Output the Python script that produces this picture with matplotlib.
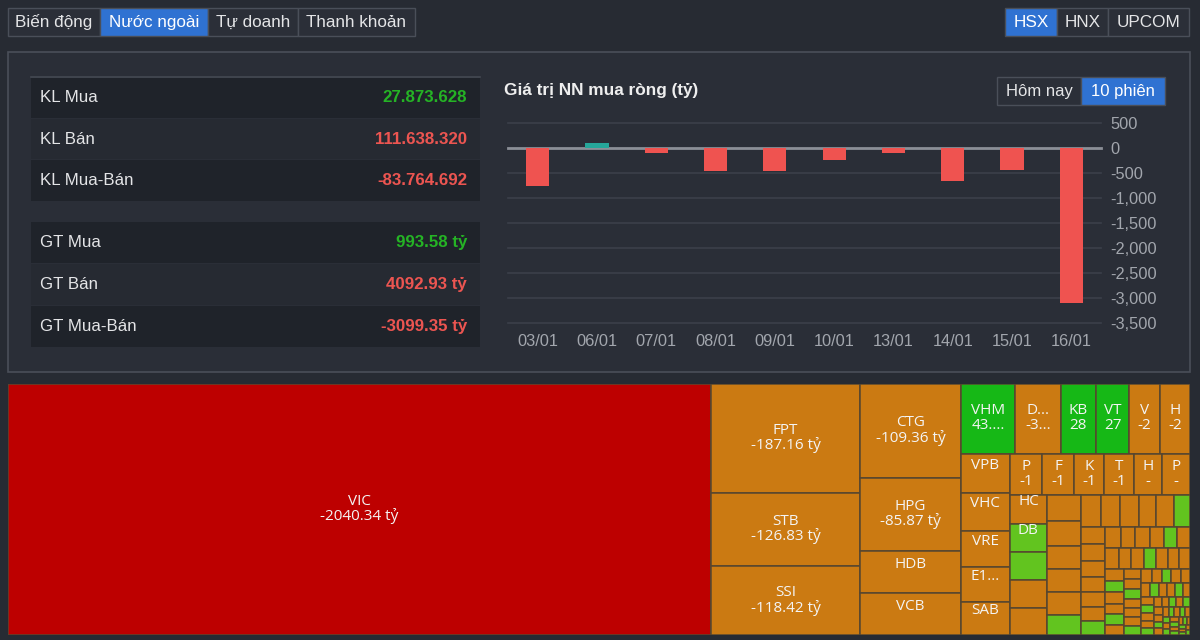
import matplotlib
matplotlib.use("Agg")
import matplotlib.pyplot as plt
from matplotlib.patches import Rectangle
import math

W, H = 1200, 640

# ---------------- data ----------------
tabs_left = ["Biến động", "Nước ngoài", "Tự doanh", "Thanh khoản"]
tabs_left_active = 1
tabs_right = ["HSX", "HNX", "UPCOM"]
tabs_right_active = 0
period_tabs = ["Hôm nay", "10 phiên"]
period_active = 1

stat_labels = ["KL Mua", "KL Bán", "KL Mua-Bán", "GT Mua", "GT Bán", "GT Mua-Bán"]
stat_values = ["27.873.628", "111.638.320", "-83.764.692", "993.58 tỷ", "4092.93 tỷ", "-3099.35 tỷ"]
stat_signs = [1, -1, -1, 1, -1, -1]

chart_title = "Giá trị NN mua ròng (tỷ)"
dates = ["03/01", "06/01", "07/01", "08/01", "09/01", "10/01", "13/01", "14/01", "15/01", "16/01"]
net_values = [-755, 110, -108, -465, -458, -245, -92, -655, -432, -3099.35]
y_ticks = [500, 0, -500, -1000, -1500, -2000, -2500, -3000, -3500]

# treemap: labelled cells (label as displayed, value text as displayed)
tm_names = ["VIC", "FPT", "STB", "SSI", "CTG", "HPG", "HDB", "VCB", "VHM", "D...", "KB", "VT",
            "V", "H", "VPB", "VHC", "VRE", "E1...", "SAB", "P", "F", "K", "T", "H", "P", "HC", "DB"]
tm_values = [-2040.34, -187.16, -126.83, -118.42, -109.36, -85.87, -49.10, -48.70, 43.35, -37.10,
             28.10, 27.00, -24.50, -24.20, -21.90, -21.50, -20.40, -19.80, -18.30, -15.80, -15.20,
             -14.60, -14.30, -13.60, -13.30, -12.50, 12.45]
tm_texts = ["-2040.34 tỷ", "-187.16 tỷ", "-126.83 tỷ", "-118.42 tỷ", "-109.36 tỷ", "-85.87 tỷ", "", "",
            "43....", "-3...", "28", "27", "-2", "-2", "", "", "", "", "", "-1", "-1", "-1", "-1",
            "-", "-", "", ""]
# treemap: small unlabelled cells
tm_small = [12.2, -12.0, -11.9, -10.0, -9.7, -9.3, -9.0, -8.6, 8.0, -7.4, -7.1, -6.8, -6.5, -6.4, 6.1,
            -4.8, -4.6, -4.5, -4.3, -4.2, -4.0, 3.9, -3.8, -3.6, -3.5, -3.4, 3.3, -3.2, -3.1, -3.0,
            -2.9, 2.85, -2.8, -2.7, -2.6, -2.5, 2.45, -2.4, -2.3, 2.2, -2.15, -2.1, -2.0, 1.95, -1.9,
            -1.85, -1.8, 1.75, -1.7, -1.65, 1.6, -1.55, -1.5, -1.45, 1.4, -1.35, -1.3, 1.25, -1.2,
            -1.2, 1.15, -1.1, -1.05, 1.0, -0.95, -0.9, 0.88, -0.85, 0.8, -0.78, -0.75, 0.72, -0.7,
            -0.66, 0.62, -0.6, 0.58, -0.55, 0.55, -0.52, 0.5, -0.48, 0.45, -0.42, 0.4, -0.38, 0.35,
            -0.32, 0.3, -0.28, 0.25, -0.22, 0.2]

# ---------------- style ----------------
BG = "#272b33"
PANEL = "#2a2e37"
BORDER = "#4a4f59"
BTN_BG = "#2b2f38"
BLUE = "#2f72d2"
ROW_DARK = "#1f232a"
ROW_LIGHT = "#262a32"
TXT = "#e4e5e7"
GREEN_TXT = "#25b325"
RED_TXT = "#ec5551"
GRID = "#3b404a"
TICK = "#a2a6ad"
BAR_UP = "#26a69a"
BAR_DN = "#ef5350"
UI_FONT = ["Liberation Sans", "DejaVu Sans"]
TM_FONT = ["Open Sans", "DejaVu Sans"]

fig = plt.figure(figsize=(W / 100, H / 100), dpi=100)
fig.patch.set_facecolor(BG)

ui = fig.add_axes([0, 0, 1, 1])
ui.set_xlim(0, W)
ui.set_ylim(H, 0)
ui.axis("off")
ui.set_facecolor(BG)


def box(x0, x1, y0, y1, fc, ec=None, lw=1.0, z=1):
    ui.add_patch(Rectangle((x0, y0), x1 - x0, y1 - y0, facecolor=fc,
                           edgecolor=ec if ec else "none", linewidth=lw, zorder=z))


def button_group(edges, y0, y1, labels, active, size=12.3):
    for i, lab in enumerate(labels):
        x0, x1 = edges[i], edges[i + 1]
        fc = BLUE if i == active else BTN_BG
        box(x0, x1, y0, y1, fc, BORDER, 1.0, 2)
        ui.text((x0 + x1) / 2, (y0 + y1) / 2 + 0.5, lab, ha="center", va="center",
                color="#ffffff" if i == active else TXT, fontsize=size, family=UI_FONT, zorder=3)


# top tabs
button_group([7.5, 99.5, 208, 298, 414.5], 7.5, 36, tabs_left, tabs_left_active)
button_group([1005, 1057, 1108, 1189], 7.5, 36, tabs_right, tabs_right_active)

# panel
box(7.5, 1190, 52, 372, PANEL, BORDER, 1.2, 1)

# stats table
row_bounds = [(78, 118), (119, 159), (160, 201), (222, 263), (264, 305), (306, 347)]
row_cols = [ROW_DARK, ROW_LIGHT, ROW_DARK, ROW_DARK, ROW_LIGHT, ROW_DARK]
ui.plot([31, 480], [77, 77], color="#444952", lw=1.2, zorder=2)
for (y0, y1), c, lab, val, s in zip(row_bounds, row_cols, stat_labels, stat_values, stat_signs):
    box(31, 480, y0, y1, c, None, 0, 2)
    yc = (y0 + y1) / 2
    ui.text(40, yc, lab, ha="left", va="center", color=TXT, fontsize=12.2, family=UI_FONT, zorder=3)
    ui.text(467, yc, val, ha="right", va="center", color=GREEN_TXT if s > 0 else RED_TXT,
            fontsize=12.2, fontweight="bold", family=UI_FONT, zorder=3)

# chart title and period buttons
ui.text(504, 91, chart_title, ha="left", va="center", color="#eeeeee", fontsize=12.4,
        fontweight="bold", family=UI_FONT, zorder=3)
button_group([997, 1081, 1165], 77, 105, period_tabs, period_active, size=12)

# ---------------- bar chart ----------------
ax = fig.add_axes([508 / W, 1 - 323 / H, 593 / W, 200 / H])
ax.set_facecolor("none")
x = list(range(len(dates)))
colors = [BAR_UP if v >= 0 else BAR_DN for v in net_values]
ax.bar(x, net_values, width=0.39, color=colors, zorder=3)
for t in y_ticks:
    if t == 0:
        ax.axhline(t, color="#8b8f97", lw=2, zorder=2, clip_on=False)
    else:
        ax.axhline(t, color=GRID, lw=1.2, zorder=1, clip_on=False)
ax.set_xlim(-0.5, len(dates) - 0.5)
ax.set_ylim(y_ticks[-1], y_ticks[0])
ax.set_xticks(x)
ax.set_xticklabels(dates, family=UI_FONT)
ax.yaxis.tick_right()
ax.set_yticks(y_ticks)
ax.set_yticklabels([f"{t:,}" for t in y_ticks], family=UI_FONT)
ax.tick_params(axis="both", length=0, colors=TICK, labelsize=11.8)
ax.tick_params(axis="y", pad=7)
ax.tick_params(axis="x", pad=8)
for sp in ax.spines.values():
    sp.set_visible(False)

# ---------------- treemap ----------------
TX0, TY0, TX1, TY1 = 8, 384, 1190, 635
tw, th = TX1 - TX0, TY1 - TY0
tm = fig.add_axes([TX0 / W, 1 - TY1 / H, tw / W, th / H])
tm.set_xlim(0, tw)
tm.set_ylim(th, 0)
tm.axis("off")

all_vals = tm_values + tm_small
all_names = tm_names + [""] * len(tm_small)
all_texts = tm_texts + [""] * len(tm_small)
order = sorted(range(len(all_vals)), key=lambda i: -abs(all_vals[i]))
areas_in = [abs(all_vals[i]) for i in order]


def treemap_layout(sizes, w, h, ratio=0.5 * (1 + 5 ** 0.5)):
    total = sum(sizes)
    areas = [s / total * w * h for s in sizes]
    rect = {"x": 0.0, "y": 0.0, "w": float(w), "h": float(h)}
    out = [None] * len(areas)

    def worst(row, row_area, fixed):
        amax = max(areas[k] for k in row)
        amin = min(areas[k] for k in row)
        sq = row_area * row_area
        f = fixed * fixed * ratio
        return max(f * amax / sq, sq / (f * amin)) if sq else math.inf

    def position(row, row_area, fixed, flush):
        if fixed == rect["w"]:
            other = row_area / fixed if fixed else 0
            if flush or other > rect["h"]:
                other = rect["h"]
            last = rect["x"]
            for n, k in enumerate(row):
                step = areas[k] / other if other else 0
                remain = rect["x"] + rect["w"] - last
                mod = remain if (n == len(row) - 1 or remain < step) else step
                out[k] = (last, rect["y"], mod, other)
                last += mod
            rect["y"] += other
            rect["h"] -= other
        else:
            other = row_area / fixed if fixed else 0
            if flush or other > rect["w"]:
                other = rect["w"]
            last = rect["y"]
            for n, k in enumerate(row):
                step = areas[k] / other if other else 0
                remain = rect["y"] + rect["h"] - last
                mod = remain if (n == len(row) - 1 or remain < step) else step
                out[k] = (rect["x"], last, other, mod)
                last += mod
            rect["x"] += other
            rect["w"] -= other

    fixed = min(rect["w"], rect["h"])
    best = math.inf
    row, row_area = [], 0.0
    i = 0
    while i < len(areas):
        row.append(i)
        row_area += areas[i]
        score = worst(row, row_area, fixed)
        if score <= best:
            i += 1
            best = score
        else:
            row.pop()
            row_area -= areas[i]
            position(row, row_area, fixed, False)
            fixed = min(rect["w"], rect["h"])
            row, row_area, best = [], 0.0, math.inf
    if row:
        position(row, row_area, fixed, True)
    return out


rects = treemap_layout(areas_in, tw, th)


def cell_color(v):
    if v <= -1000:
        return "#bd0000"
    if v < 0:
        return "#cb7a12"
    if v >= 20:
        return "#16b816"
    return "#62c41f"


for (rx, ry, rw, rh), idx in zip(rects, order):
    v = all_vals[idx]
    tm.add_patch(Rectangle((rx, ry), rw, rh, facecolor=cell_color(v), edgecolor="#56462f",
                           linewidth=1.1, zorder=2))
    name, txt = all_names[idx], all_texts[idx]
    cx, cy = rx + rw / 2, ry + rh / 2
    if name:
        tm.text(cx, cy - 8, name, ha="center", va="center", color="#f4f4f4", fontsize=11,
                family=TM_FONT, zorder=3)
    if txt:
        tm.text(cx, cy + 7, txt, ha="center", va="center", color="#f4f4f4", fontsize=11,
                family=TM_FONT, zorder=3)

fig.savefig("out.png", dpi=100, facecolor=BG)
